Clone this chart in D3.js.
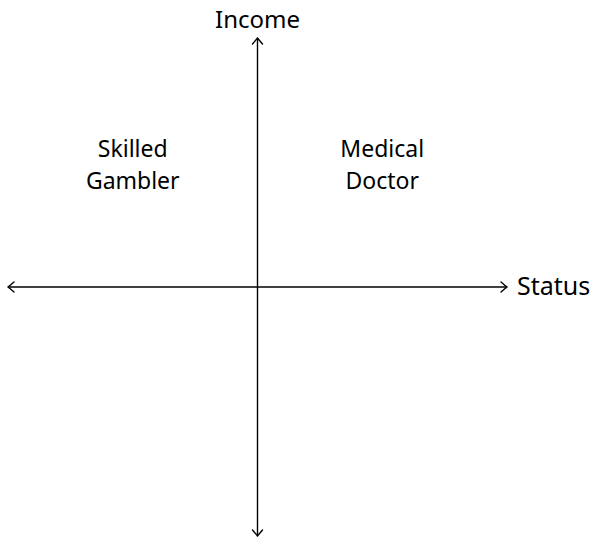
<!DOCTYPE html>
<html>
<head>
<meta charset="utf-8">
<script src="https://cdn.jsdelivr.net/npm/d3@7"></script>
<style>
  body { margin: 0; background: #fff; }
  text { font-family: "Noto Sans", sans-serif; fill: #000; }
</style>
</head>
<body>
<div id="chart"></div>
<script>
// axis names and quadrant labels
const axisNames = { x: "Status", y: "Income" };
const quadLabels = ["Skilled\nGambler", "Medical\nDoctor"];
const quadX = [-0.5, 0.5];
const quadY = [0.5, 0.5];

const width = 598, height = 539;

const svg = d3.select("#chart").append("svg")
    .attr("width", width)
    .attr("height", height);

const x = d3.scaleLinear().domain([-1, 1]).range([8, 507]);
const y = d3.scaleLinear().domain([-1, 1]).range([536, 38]);

// pointy "to" arrow head, drawn at the tip pointing in direction (dx, dy)
function arrowHead(tx, ty, dx, dy) {
    const px = -dy, py = dx;
    const back = 6, side = 5;
    const bx = tx - dx * back, by = ty - dy * back;
    const c1x = tx - dx * 1.5, c1y = ty - dy * 1.5;
    return `M${bx + px * side},${by + py * side}` +
        `Q${c1x + px * 1.2},${c1y + py * 1.2} ${tx},${ty}` +
        `Q${c1x - px * 1.2},${c1y - py * 1.2} ${bx - px * side},${by - py * side}`;
}

const g = svg.append("g");

// horizontal axis
g.append("line")
    .attr("x1", x(-1) + 1).attr("x2", x(1) - 1)
    .attr("y1", y(0)).attr("y2", y(0))
    .attr("stroke", "#000").attr("stroke-width", 1.4);
// vertical axis
g.append("line")
    .attr("x1", x(0)).attr("x2", x(0))
    .attr("y1", y(1) + 1).attr("y2", y(-1) - 1)
    .attr("stroke", "#000").attr("stroke-width", 1.4);

const heads = [
    [x(1), y(0), 1, 0],
    [x(-1), y(0), -1, 0],
    [x(0), y(1), 0, -1],
    [x(0), y(-1), 0, 1]
];
g.selectAll(".head")
    .data(heads)
    .enter().append("path")
    .attr("class", "head")
    .attr("d", d => arrowHead(d[0], d[1], d[2], d[3]))
    .attr("fill", "none")
    .attr("stroke", "#000")
    .attr("stroke-width", 1.4)
    .attr("stroke-linecap", "round");

// axis names
g.append("text")
    .attr("x", x(0)).attr("y", y(1) - 10)
    .attr("text-anchor", "middle")
    .style("font-size", "24px")
    .text(axisNames.y);
g.append("text")
    .attr("x", x(1) + 10).attr("y", y(0) + 8)
    .attr("text-anchor", "start")
    .style("font-size", "25px")
    .text(axisNames.x);

// quadrant labels
const lab = g.selectAll(".quad")
    .data(quadLabels)
    .enter().append("text")
    .attr("class", "quad")
    .attr("text-anchor", "middle")
    .style("font-size", "23px");
lab.each(function(d, i) {
    const lines = d.split("\n");
    d3.select(this).selectAll("tspan")
        .data(lines)
        .enter().append("tspan")
        .attr("x", x(quadX[i]))
        .attr("y", (l, j) => y(quadY[i]) - 6 + j * 32)
        .text(l => l);
});
</script>
</body>
</html>
